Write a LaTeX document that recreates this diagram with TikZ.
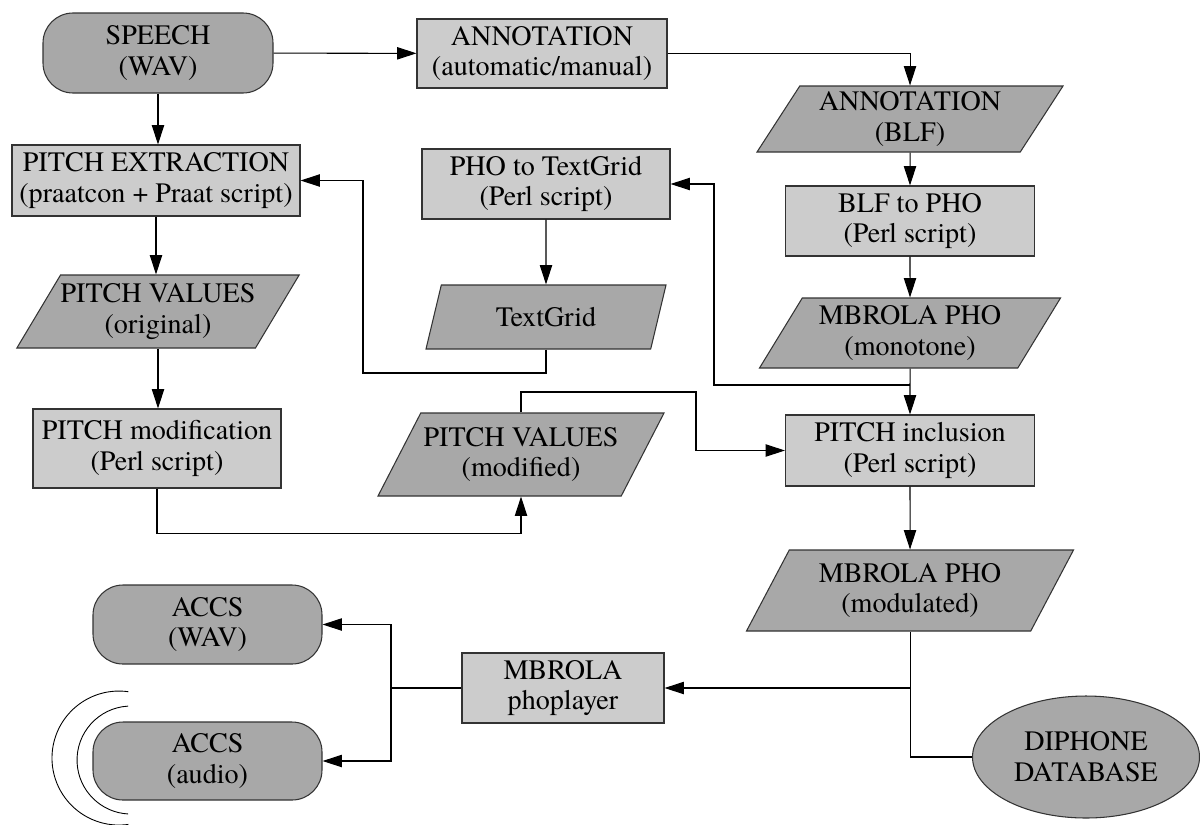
\documentclass[tikz,border=0pt]{standalone}
\usepackage{fontspec}
\IfFontExistsTF{texgyretermes-regular.otf}{\setmainfont{texgyretermes-regular.otf}}{\setmainfont{Liberation Serif}}
\usetikzlibrary{shapes.geometric,arrows.meta}

\definecolor{boxgray}{HTML}{CCCCCC}
\definecolor{datagray}{HTML}{A8A8A8}
\definecolor{edgegray}{HTML}{333333}

\begin{document}
\begin{tikzpicture}[line width=0.6pt,font=\fontsize{16}{17.5}\selectfont,
		>={Triangle[length=11pt,width=7pt]},
		boxsize/.style 2 args={minimum width=#1cm,minimum height=#2cm,inner sep=0pt,align=center},
		proc/.style={rectangle,draw=edgegray,fill=boxgray},
		data/.style={trapezium,trapezium left angle=52,trapezium right angle=128,trapezium stretches body,draw=edgegray,fill=datagray},
		term/.style={rectangle,rounded corners=0.6cm,draw=edgegray,fill=datagray},
		store/.style={ellipse,draw=edgegray,fill=datagray}]
			\useasboundingbox (0,0) rectangle (24,-16.48);
			\node[term,boxsize={4.6}{1.6}] (speech) at (3.16,-1.06) {SPEECH\\(WAV)};
			\node[proc,boxsize={5.0}{1.38}] (annot) at (10.84,-1.07) {ANNOTATION\\(automatic/manual)};
			\node[data,boxsize={6.12}{1.32}] (blf) at (18.2,-2.38) {ANNOTATION\\(BLF)};
			\node[proc,boxsize={4.98}{1.4}] (blfpho) at (18.2,-4.42) {BLF to PHO\\(Perl script)};
			\node[proc,boxsize={5.76}{1.42}] (pextr) at (3.12,-3.61) {PITCH EXTRACTION\\(praatcon + Praat script)};
			\node[proc,boxsize={4.96}{1.4}] (photg) at (10.92,-3.68) {PHO to TextGrid\\(Perl script)};
			\node[data,boxsize={5.4}{1.46}] (pvorig) at (3.16,-6.23) {PITCH VALUES\\(original)};
			\node[data,boxsize={4.8}{1.28}] (tgrid) at (10.92,-6.34) {TextGrid};
			\node[data,boxsize={6.02}{1.4}] (mono) at (18.2,-6.66) {MBROLA PHO\\(monotone)};
			\node[proc,boxsize={4.96}{1.58}] (pmod) at (3.14,-8.97) {PITCH modification\\(Perl script)};
			\node[data,boxsize={5.72}{1.66}] (pvmod) at (10.42,-9.09) {PITCH VALUES\\(modified)};
			\node[proc,boxsize={4.98}{1.42}] (pinc) at (18.2,-9.01) {PITCH inclusion\\(Perl script)};
			\node[data,boxsize={6.54}{1.62}] (modul) at (18.2,-11.81) {MBROLA PHO\\(modulated)};
			\node[proc,boxsize={4.04}{1.4}] (player) at (11.26,-13.76) {MBROLA\\phoplayer};
			\node[term,boxsize={4.58}{1.58}] (accswav) at (4.15,-12.49) {ACCS\\(WAV)};
			\node[term,boxsize={4.58}{1.56}] (accsaud) at (4.15,-15.22) {ACCS\\(audio)};
			\node[store,boxsize={4.54}{2.44}] (diphone) at (21.72,-15.14) {DIPHONE\\DATABASE};

			\coordinate (tgturn) at (7.26,-7.46);
			\coordinate (monoturn) at (14.28,-7.7);
			\coordinate (pvturn) at (13.92,-7.84);
			\coordinate (split) at (7.82,-13.76);

			\draw[->] (speech) -- (annot);
			\draw[->] (annot.east) -| (blf.north);
			\draw[->] (speech.south) -- (speech.south |- pextr.north);
			\draw[->] (blf) -- (blfpho);
			\draw[->] (pextr.south) -- (pextr.south |- pvorig.north);
			\draw[->] (photg) -- (tgrid);
			\draw[->] (blfpho) -- (mono);
			\draw[->] (pvorig.south) -- (pvorig.south |- pmod.north);
			\draw[->] (tgrid.south) |- (tgturn) |- (pextr.east);
			\draw[->] (mono) -- (pinc);
			\draw[->] (mono.south |- monoturn) -- (monoturn) |- (photg.east);
			\draw[->] (pmod.south) -- ++(0,-0.9) -| (pvmod.south);
			\draw[->] (pvmod.north) |- (pvturn) |- (pinc.west);
			\draw[->] (pinc) -- (modul);
			\draw (modul.south) |- (diphone.west);
			\draw[->] (modul.south |- player.east) -- (player.east);
			\draw (player.west) -- (split);
			\draw[->] (split) |- (accswav.east);
			\draw[->] (split) |- (accsaud.east);
			\draw[line width=0.5pt] (2.566,-13.834) arc[start angle=82,end angle=278,radius=1.34];
			\draw[line width=0.5pt] (2.564,-14.122) arc[start angle=93,end angle=267,radius=1.08];
		\end{tikzpicture}
\end{document}
